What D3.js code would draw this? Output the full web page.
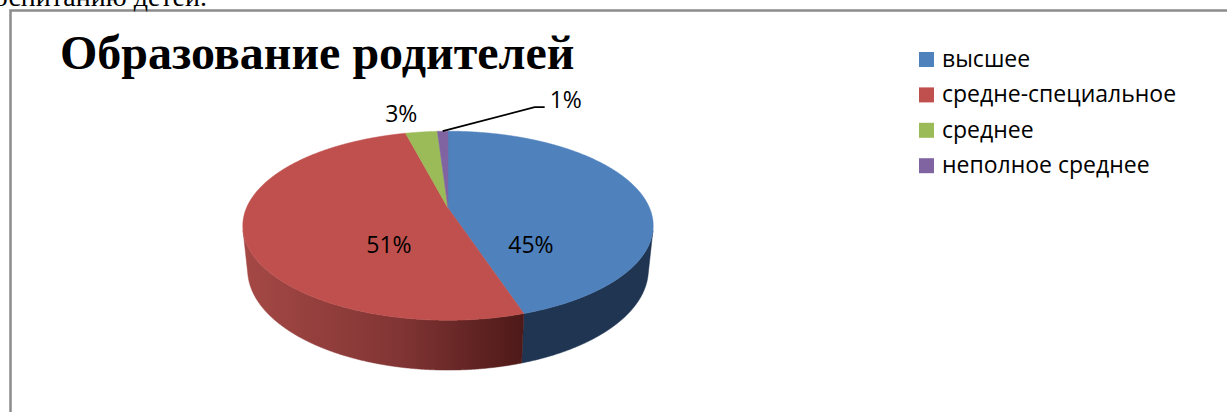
<!DOCTYPE html>
<html>
<head>
<meta charset="utf-8">
<script src="https://cdn.jsdelivr.net/npm/d3@7/dist/d3.min.js"></script>
<style>
  html, body { margin: 0; padding: 0; background: #fff; }
  svg { display: block; }
</style>
</head>
<body>
<svg id="chart" width="1227" height="412"></svg>
<script>
// ---- data ----
const categories = ["высшее", "средне-специальное", "среднее", "неполное среднее"];
const values = [45, 51, 3, 1];
const colors = ["#4f81bd", "#c0504d", "#9bbb59", "#8064a2"];
const sideColors = ["#1f3552", "url(#redSide)", "#6f8a3c", "#5a4678"];
const titleText = "Образование родителей";
const aboveText = "воспитанию детей.";

// ---- layout / projection ----
const W = 1227, H = 412;
const svg = d3.select("#chart");
const cx = 448, cy = 208;          // screen position of pie centre
const phi = 26.9 * Math.PI / 180;  // camera elevation
const Dcam = 4.76;                 // camera distance (in radii)
const F = 959.5;                   // focal scale (px)
const depthH = 0.2465;             // pie thickness (in radii)

function proj(theta, r, y3) {
  const X = r * Math.sin(theta), Z = -r * Math.cos(theta), Y = y3;
  const depth = Dcam - Y * Math.sin(phi) - Z * Math.cos(phi);
  return [cx + F * X / depth, cy - F * (Y * Math.cos(phi) - Z * Math.sin(phi)) / depth];
}

const pie = d3.pie().sort(null).value(d => d);
const arcs = pie(values);
const line = d3.line();

function arcPoints(a0, a1, r, y3) {
  const n = Math.max(2, Math.ceil(Math.abs(a1 - a0) / (0.25 * Math.PI / 180)));
  return d3.range(n + 1).map(i => proj(a0 + (a1 - a0) * i / n, r, y3));
}

// gradient for the red wall
const defs = svg.append("defs");
const g1 = defs.append("linearGradient").attr("id", "redSide")
  .attr("gradientUnits", "userSpaceOnUse")
  .attr("x1", proj(-Math.PI / 2, 1, 0)[0]).attr("x2", proj(Math.PI * 0.9, 1, 0)[0])
  .attr("y1", 0).attr("y2", 0);
g1.append("stop").attr("offset", "0%").attr("stop-color", "#a44845");
g1.append("stop").attr("offset", "55%").attr("stop-color", "#813534");
g1.append("stop").attr("offset", "100%").attr("stop-color", "#4d1918");

// frame
svg.append("path")
  .attr("d", `M10.5,${H} V10.5 H${W}`)
  .attr("fill", "none").attr("stroke", "#8c8c8c").attr("stroke-width", 2.5);

// cut-off document text above the chart
svg.append("text").attr("x", 207).attr("y", 6)
  .attr("text-anchor", "end")
  .attr("font-family", "'Liberation Serif', 'Times New Roman', serif")
  .attr("font-size", 28).attr("fill", "#000").text(aboveText);

// title
svg.append("text").attr("x", 60).attr("y", 69)
  .attr("font-family", "'Liberation Serif', 'Times New Roman', serif")
  .attr("font-weight", "bold").attr("font-size", 48).attr("fill", "#000")
  .text(titleText);

// visible wall range
const lim = Math.acos(-1 / (Dcam * Math.cos(phi)));   // ~103.6deg
const visA0 = lim, visA1 = 2 * Math.PI - lim;

const pieG = svg.append("g");
// walls
arcs.forEach((a, i) => {
  const s = Math.max(a.startAngle, visA0), e = Math.min(a.endAngle, visA1);
  if (e <= s) return;
  const top = arcPoints(s, e, 1, 0);
  const bot = arcPoints(e, s, 1, -depthH);
  pieG.append("path").attr("d", line(top.concat(bot)) + "Z")
    .attr("fill", sideColors[i]).attr("stroke", sideColors[i]).attr("stroke-width", 0.5);
});
// top faces
arcs.forEach((a, i) => {
  const pts = [proj(0, 0, 0)].concat(arcPoints(a.startAngle, a.endAngle, 1, 0));
  pieG.append("path").attr("d", line(pts) + "Z")
    .attr("fill", colors[i]).attr("stroke", colors[i]).attr("stroke-width", 0.5);
});

// data labels
const lblFont = "'Open Sans', 'Noto Sans', sans-serif";
const bodyMid = (proj(0, 1, 0)[1] + proj(Math.PI, 1, -depthH)[1]) / 2;
let smallCount = 0;
arcs.forEach((a, i) => {
  const mid = (a.startAngle + a.endAngle) / 2;
  const txt = values[i] + "%";
  const share = (a.endAngle - a.startAngle) / (2 * Math.PI);
  if (share >= 0.05) {
    const p = proj(mid, 0.36, 0);
    svg.append("text").attr("x", p[0] + 12).attr("y", bodyMid - 7)
      .attr("text-anchor", "middle").attr("dominant-baseline", "central")
      .attr("font-family", lblFont).attr("font-size", 23).attr("fill", "#000").text(txt);
  } else {
    const e = proj(mid, 1, 0);
    if (smallCount === 0) {
      svg.append("text").attr("x", e[0] - 4).attr("y", e[1] - 10)
        .attr("text-anchor", "end")
        .attr("font-family", lblFont).attr("font-size", 23).attr("fill", "#000").text(txt);
    } else {
      const elbow = [e[0] + 92, e[1] - 24];
      const endP = [elbow[0] + 10, elbow[1]];
      svg.append("path").attr("d", line([e, elbow, endP]))
        .attr("fill", "none").attr("stroke", "#000").attr("stroke-width", 1.8);
      svg.append("text").attr("x", endP[0] + 5).attr("y", endP[1] + 1)
        .attr("font-family", lblFont).attr("font-size", 23).attr("fill", "#000").text(txt);
    }
    smallCount++;
  }
});

// legend
const legend = svg.append("g");
categories.forEach((c, i) => {
  const base = 67 + i * 35.4;
  legend.append("rect").attr("x", 919).attr("y", base - 15).attr("width", 15).attr("height", 15)
    .attr("fill", colors[i]);
  legend.append("text").attr("x", 942).attr("y", base)
    .attr("font-family", lblFont).attr("font-size", 23).attr("fill", "#000").text(c);
});
</script>
</body>
</html>
